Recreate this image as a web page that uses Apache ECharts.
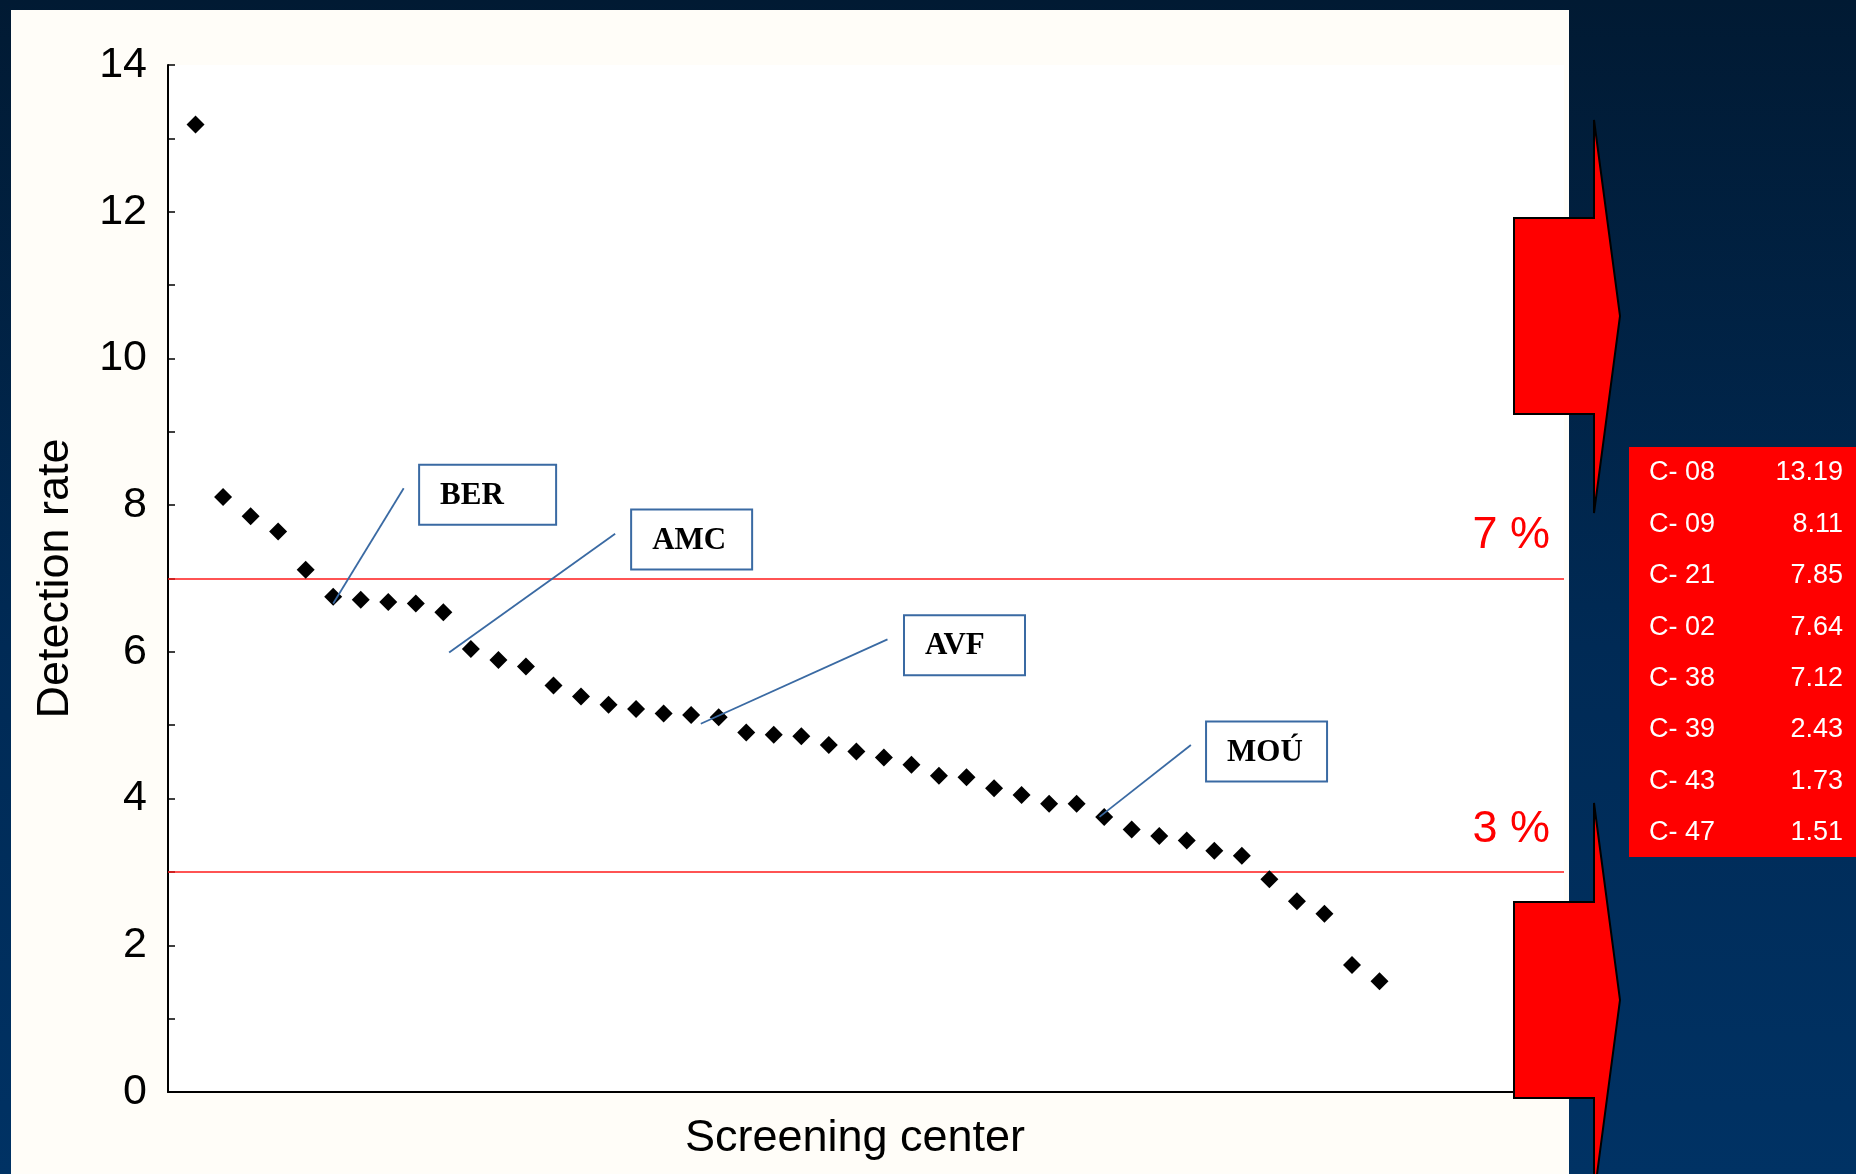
<!DOCTYPE html>
<html>
<head>
<meta charset="utf-8">
<script src="https://cdn.jsdelivr.net/npm/echarts@6/dist/echarts.min.js"></script>
<style>
  html, body { margin: 0; padding: 0; background: #012040; }
  #chart { width: 1856px; height: 1174px; }
</style>
</head>
<body>
<div id="chart"></div>
<script>
// Screening centres ranked by detection rate (%)
const centerRank = [
  1, 2, 3, 4, 5, 6, 7, 8, 9, 10, 11, 12, 13, 14, 15, 16, 17, 18, 19, 20, 21, 22,
  23, 24, 25, 26, 27, 28, 29, 30, 31, 32, 33, 34, 35, 36, 37, 38, 39, 40, 41, 42, 43, 44
];
const detectionRate = [
  13.19, 8.11, 7.85, 7.64, 7.12, 6.75, 6.71, 6.68, 6.66, 6.54,
  6.04, 5.89, 5.80, 5.54, 5.39, 5.28, 5.22, 5.16, 5.14, 5.11,
  4.90, 4.87, 4.85, 4.73, 4.64, 4.56, 4.46, 4.31, 4.29, 4.14,
  4.05, 3.93, 3.93, 3.75, 3.58, 3.49, 3.43, 3.29, 3.22, 2.90,
  2.60, 2.43, 1.73, 1.51
];
const yTicks = [0, 2, 4, 6, 8, 10, 12, 14];

// Threshold lines
const thresholds = [7, 3];
const thresholdLabels = ['7 %', '3 %'];

// Outlying centres listed in the side table
const tableCenters = ['C- 08', 'C- 09', 'C- 21', 'C- 02', 'C- 38', 'C- 39', 'C- 43', 'C- 47'];
const tableRates = ['13.19', '8.11', '7.85', '7.64', '7.12', '2.43', '1.73', '1.51'];

// Named centres
const calloutNames = ['BER', 'AMC', 'AVF', 'MOÚ'];
// Callout layout in data space: box top-left, leader start, leader end
const calloutBox = [[9.12, 8.55], [16.82, 7.94], [26.73, 6.50], [37.70, 5.05]];
const calloutFrom = [[8.56, 8.23], [16.24, 7.61], [26.13, 6.17], [37.15, 4.73]];
const calloutTo = [[6.0, 6.66], [10.21, 5.99], [19.35, 5.02], [33.83, 3.75]];
const calloutWidth = [137, 121, 121, 121];

const FONT = '"Liberation Sans", Arial, sans-serif';
const SERIF = '"Liberation Serif", "Times New Roman", serif';

const chart = echarts.init(document.getElementById('chart'), null, { renderer: 'canvas' });

const points = centerRank.map((c, i) => [c, detectionRate[i]]);

chart.setOption({
  animation: false,
  backgroundColor: 'transparent',
  grid: {
    left: 168, top: 65, right: 292, bottom: 82,
    show: true, backgroundColor: '#ffffff', borderWidth: 0, z: 0
  },
  xAxis: {
    type: 'value', min: 0, max: 50.7, z: 3,
    axisLine: { show: true, onZero: false, lineStyle: { color: '#000', width: 2 } },
    axisTick: { show: false },
    axisLabel: { show: false },
    splitLine: { show: false },
    name: 'Screening center',
    nameLocation: 'middle',
    nameGap: 24,
    nameTextStyle: { fontSize: 45, color: '#000', fontFamily: FONT, padding: [0, 22, 0, 0] }
  },
  yAxis: {
    type: 'value', min: yTicks[0], max: yTicks[yTicks.length - 1], interval: 2, z: 3,
    axisLine: { show: true, lineStyle: { color: '#000', width: 2 } },
    axisTick: { show: true, inside: true, length: 7, lineStyle: { color: '#000', width: 1.5 } },
    minorTick: { show: true, splitNumber: 2, length: 7, lineStyle: { color: '#000', width: 1.5 } },
    splitLine: { show: false },
    minorSplitLine: { show: false },
    axisLabel: { fontSize: 43, color: '#000', fontFamily: FONT, margin: 21 },
    name: 'Detection rate',
    nameLocation: 'middle',
    nameGap: 90,
    nameTextStyle: { fontSize: 45, color: '#000', fontFamily: FONT }
  },
  series: [{
    type: 'scatter',
    data: points,
    symbol: 'diamond',
    symbolSize: 18,
    itemStyle: { color: '#000', opacity: 1 },
    z: 5,
    markLine: {
      silent: true,
      symbol: ['none', 'none'],
      lineStyle: { color: '#ff1a1a', width: 1.5, type: 'solid' },
      label: {
        show: true,
        position: 'insideEndTop',
        formatter: '{b}',
        color: '#ff0000',
        fontSize: 45,
        fontFamily: FONT,
        distance: [14, 20]
      },
      data: thresholds.map((t, i) => ({ yAxis: t, name: thresholdLabels[i] }))
    }
  }]
});

// Decorations: slide background, panel, arrows, side table and callouts
function arrow(top, mid, bottom) {
  const h = 98;
  return [[1514, mid - h], [1594, mid - h], [1594, top], [1620, mid], [1594, bottom], [1594, mid + h], [1514, mid + h]];
}

const elements = [];
elements.push({
  type: 'rect', z: -20, silent: true,
  shape: { x: 0, y: 0, width: 1856, height: 1174 },
  style: {
    fill: new echarts.graphic.LinearGradient(0, 0, 0, 1, [
      { offset: 0, color: '#011a33' },
      { offset: 0.55, color: '#002a55' },
      { offset: 1, color: '#003264' }
    ])
  }
});
elements.push({
  type: 'rect', z: -10, silent: true,
  shape: { x: 11, y: 10, width: 1558, height: 1170 },
  style: { fill: '#fffdf8' }
});

[[120, 316, 513], [803, 1000, 1197]].forEach(a => {
  elements.push({
    type: 'polygon', z: 50, silent: true,
    shape: { points: arrow(a[0], a[1], a[2]) },
    style: { fill: '#ff0000', stroke: '#000', lineWidth: 2, lineJoin: 'miter' }
  });
});

// Side table
const rowTop = 447, rowStep = 51.4;
elements.push({
  type: 'rect', z: 50, silent: true,
  shape: { x: 1629, y: rowTop, width: 240, height: 410 },
  style: { fill: '#ff0000' }
});
tableCenters.forEach((c, i) => {
  const cy = 473 + i * rowStep;
  elements.push({
    type: 'text', z: 51, silent: true, x: 1649, y: cy,
    style: { text: c, fill: '#ffffff', font: '27px ' + FONT, textAlign: 'left', textVerticalAlign: 'middle' }
  });
  elements.push({
    type: 'text', z: 51, silent: true, x: 1843, y: cy,
    style: { text: tableRates[i], fill: '#ffffff', font: '27px ' + FONT, textAlign: 'right', textVerticalAlign: 'middle' }
  });
});

// Callouts anchored in data space
calloutNames.forEach((name, i) => {
  const tl = chart.convertToPixel({ gridIndex: 0 }, calloutBox[i]);
  const p1 = chart.convertToPixel({ gridIndex: 0 }, calloutFrom[i]);
  const p2 = chart.convertToPixel({ gridIndex: 0 }, calloutTo[i]);
  elements.push({
    type: 'line', z: 30, silent: true,
    shape: { x1: p1[0], y1: p1[1], x2: p2[0], y2: p2[1] },
    style: { stroke: '#3a6aa3', lineWidth: 1.8 }
  });
  elements.push({
    type: 'rect', z: 30, silent: true,
    shape: { x: tl[0], y: tl[1], width: calloutWidth[i], height: 60 },
    style: { fill: '#ffffff', stroke: '#3a6aa3', lineWidth: 2 }
  });
  elements.push({
    type: 'text', z: 31, silent: true, x: tl[0] + 21, y: tl[1] + 31,
    style: { text: name, fill: '#000', font: 'bold 31px ' + SERIF, textAlign: 'left', textVerticalAlign: 'middle' }
  });
});

chart.setOption({ graphic: { elements: elements } });
</script>
</body>
</html>
